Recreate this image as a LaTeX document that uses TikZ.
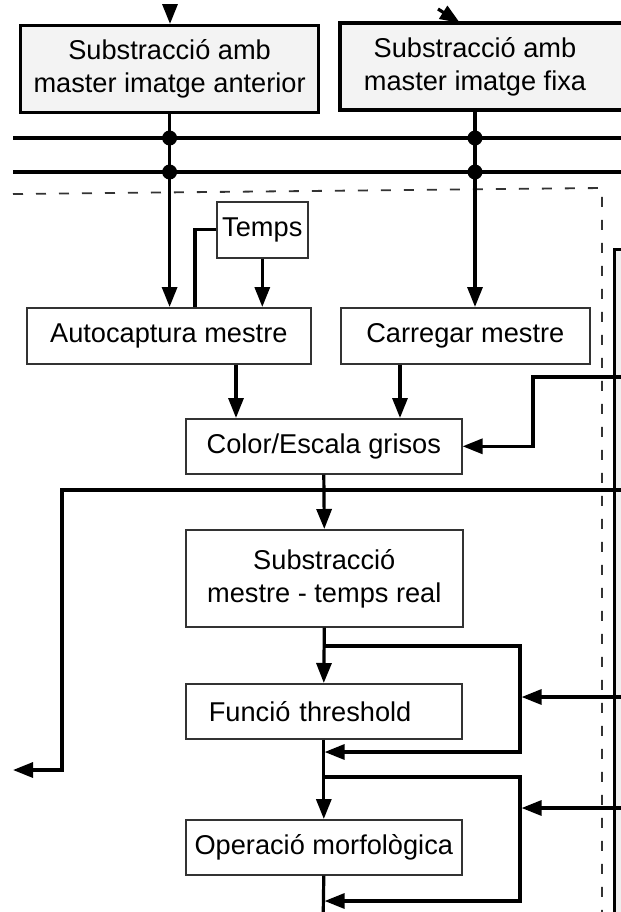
\documentclass[tikz,border=0pt]{standalone}
\usepackage{fontspec}
\setmainfont{Liberation Sans}
\usetikzlibrary{arrows.meta}
\definecolor{topfill}{HTML}{F3F3F3}
\definecolor{boxline}{HTML}{333333}
\definecolor{sidefill}{HTML}{EFEFEF}
\definecolor{dashcol}{HTML}{333333}
\begin{document}
\begin{tikzpicture}[x=0.5pt,y=-0.5pt,
  conn/.style={line width=1.6pt, draw=black},
  arr/.style={conn, -{Triangle[length=10pt,width=7.5pt]}},
  txt/.style={font=\fontsize{13.6pt}{16.5pt}\selectfont, align=center, inner sep=0pt},
  topbox/.style={txt, draw=black, line width=1.6pt, fill=topfill, anchor=north west},
  blk/.style={txt, draw=boxline, line width=0.8pt, fill=white, anchor=north west},
  dot/.style={circle, fill=black, inner sep=0pt, minimum size=7.5pt}]
\useasboundingbox (0,0) rectangle (621,912);
\clip (0,0) rectangle (621,912);

% dashed frame of the local block
\draw[dashcol, line width=0.9pt, dash pattern=on 5pt off 6.5pt]
  (13,194) -- (602,188) -- (602,930);

% panel on the right side
\draw[line width=1.5pt, fill=sidefill] (614,249) rectangle (700,980);

% top blocks
\node[topbox, minimum width=149pt, minimum height=43.5pt] (sant) at (19,24)
  {Substracció amb\\master imatge anterior};
\draw[line width=1.6pt, fill=topfill] (340,23) rectangle (700,110);
\node[txt] (sfixa) at (475,66.5) {Substracció amb\\master imatge fixa};
\coordinate (sfixaS) at (475,110);

% incoming arrows at the top
\coordinate (t1) at (170,5);
\draw[arr] (t1) -- (t1 |- sant.north);
\coordinate (t2) at (438,9);
\coordinate (t2e) at (460,23);
\draw[arr] (t2) -- (t2e);

% process blocks
\node[blk, minimum width=45.5pt, minimum height=28pt] (temps) at (216,201) {Temps};
\node[blk, minimum width=142pt, minimum height=28pt] (auto) at (26,307) {Autocaptura mestre};
\node[blk, minimum width=124.5pt, minimum height=28pt] (carr) at (340,307) {Carregar mestre};
\node[blk, minimum width=138pt, minimum height=27.5pt] (color) at (185,418) {Color/Escala grisos};
\node[blk, minimum width=138.5pt, minimum height=48.5pt] (subs) at (185,529)
  {Substracció\\mestre - temps real};
\node[blk, minimum width=138pt, minimum height=27.5pt, text width=138pt, align=left] (func) at (185,683)
  {\hspace*{11.5pt}Funció threshold};
\node[blk, minimum width=138pt, minimum height=27.5pt] (oper) at (185,819) {Operació morfològica};

% column positions
\coordinate (xA) at (236,0);
\coordinate (xB) at (400,0);
\coordinate (xT) at (195,0);
\coordinate (xF) at (533,0);
\coordinate (xL) at (520,0);
\coordinate (xW) at (62,0);

% buses
\coordinate (busL1) at (13,138);
\coordinate (busR1) at (630,138);
\coordinate (busL2) at (13,172);
\coordinate (busR2) at (630,172);
\draw[conn] (busL1) -- (busR1);
\draw[conn] (busL2) -- (busR2);

% outputs of the top blocks down to the masters
\draw[arr] (sant.south) -- (sant.south |- auto.north);
\draw[arr] (sfixaS) -- (sfixaS |- carr.north);
\node[dot] (j1) at (sant.south |- busL1) {};
\node[dot] (j2) at (sant.south |- busL2) {};
\node[dot] (j3) at (sfixaS |- busL1) {};
\node[dot] (j4) at (sfixaS |- busL2) {};

% timer
\draw[conn] (temps.west) -| (xT |- auto.north);
\draw[arr] (temps.south) -- (temps.south |- auto.north);

% masters to colour conversion
\draw[arr] (auto.south -| xA) -- (color.north -| xA);
\draw[arr] (carr.south -| xB) -- (color.north -| xB);

% feedback into colour conversion
\coordinate (fb) at (630,377);
\draw[arr] (fb) -| (xF |- color.east) -- (color.east);

% long line to the left
\coordinate (ll) at (630,490);
\coordinate (lo) at (13,770);
\draw[arr] (ll) -| (xW |- lo) -- (lo);

% main chain
\draw[arr] (color.south) -- (subs.north);
\draw[arr] (subs.south) -- (func.north);
\draw[arr] (func.south) -- (oper.north);
\coordinate (bot) at (323,930);
\draw[conn] (oper.south) -- (bot);

% bypass around the threshold
\coordinate (br1) at (323,646);
\coordinate (mg1) at (323,752);
\draw[arr, shorten >=0.8pt] (br1) -| (xL |- mg1) -- (mg1);
\coordinate (in1) at (630,697);
\draw[arr, shorten >=0.8pt] (in1) -- (xL |- in1);

% bypass around the morphological operation
\coordinate (br2) at (323,777);
\coordinate (mg2) at (323,901);
\draw[arr, shorten >=0.8pt] (br2) -| (xL |- mg2) -- (mg2);
\coordinate (in2) at (630,808);
\draw[arr, shorten >=0.8pt] (in2) -- (xL |- in2);
\end{tikzpicture}
\end{document}
